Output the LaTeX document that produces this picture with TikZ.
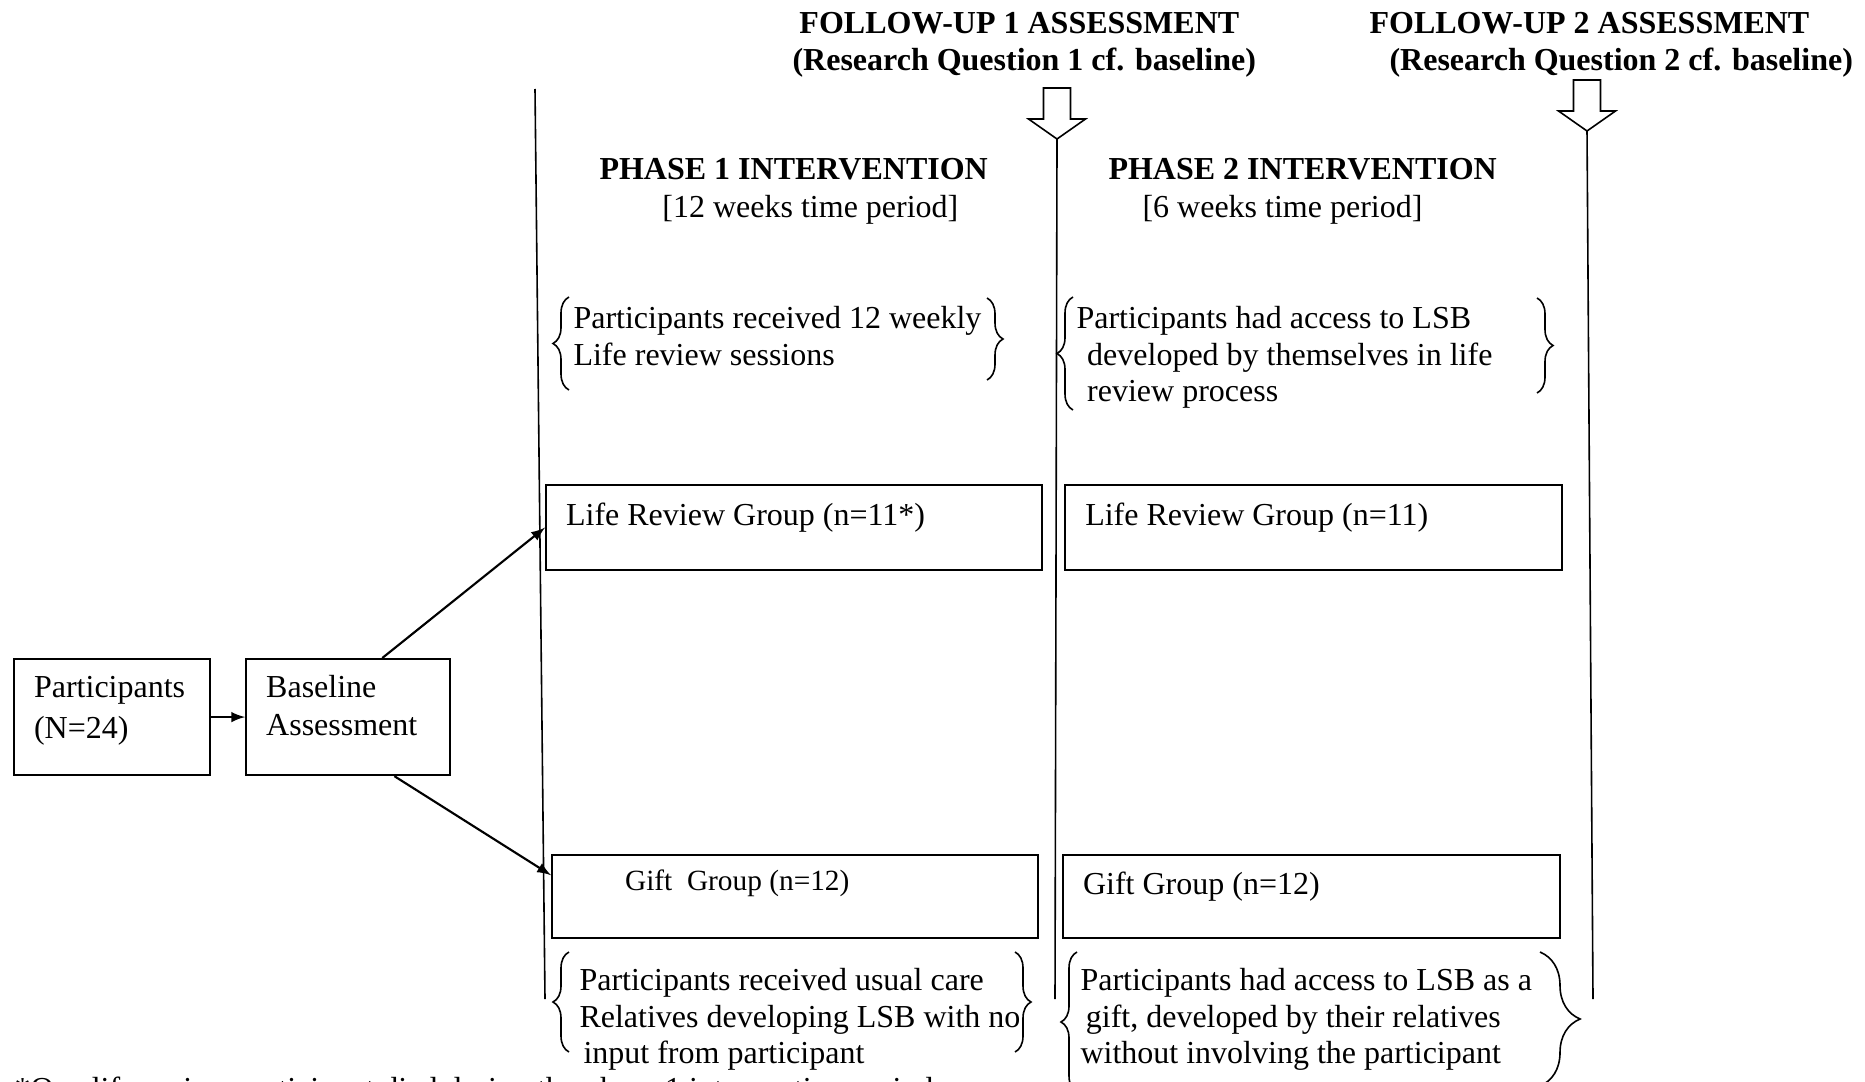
\documentclass[tikz,border=0pt]{standalone}
\usepackage{fontspec}
\setmainfont{Liberation Serif}
\usepackage{tikz}
\usetikzlibrary{arrows,positioning,calc,decorations.pathreplacing}
\tikzstyle{grpbox} = [draw, line width=0.8pt, anchor=north west, align=flush left, inner xsep=7.5pt, inner ysep=0pt, text height=15pt, text depth=16.9pt, font=\fontsize{12}{13.8}\selectfont]
\tikzstyle{startbox} = [draw, line width=0.8pt, anchor=north west, align=flush left, inner xsep=7.5pt, inner ysep=0pt, minimum height=43.5pt]
\tikzstyle{note} = [anchor=north west, align=left, inner sep=0pt, font=\fontsize{12}{13.8}\selectfont]
\tikzstyle{heading} = [note, font=\fontsize{12}{13.8}\selectfont\bfseries]
\tikzstyle{tedge}  = [draw, line width=0.8pt, >=latex, ->]
\tikzstyle{phaseline} = [draw, line width=0.6pt]
\tikzstyle{curly} = [draw, line width=0.6pt, decorate, decoration={brace, amplitude=6pt}]
\tikzstyle{hollow} = [draw, line width=0.6pt, fill=white]
\begin{document}
\begin{tikzpicture}[x=0.375pt, y=-0.375pt]
\useasboundingbox (0,0) rectangle (1865,1081);
\clip (0,0) rectangle (1865,1081);

% start boxes =============================
\node[startbox, text width=58.5pt, font=\fontsize{12}{15.4}\selectfont] (part) at (13,658) {\rule{0pt}{14.25pt}Participants\\(N=24)\rule[-13.8pt]{0pt}{0pt}};
\node[startbox, text width=61.5pt, font=\fontsize{12}{14.25}\selectfont, right=12.75pt of part] (base) {\rule{0pt}{14.25pt}Baseline\\Assessment\rule[-14.95pt]{0pt}{0pt}};

% group boxes =============================
\node[grpbox, text width=171pt] (lr1) at (545,484) {Life Review Group (n=11*)};
\node[grpbox, text width=171.4pt, right=7.9pt of lr1] (lr2) {Life Review Group (n=11)};
\node[grpbox, text width=167.25pt, text height=13.1pt, text depth=18pt] (g1) at (551,854) {\fontsize{11}{13}\selectfont\hspace*{19.9pt}Gift\ \ Group (n=12)};
\node[grpbox, text width=171.4pt, text height=14.6pt, text depth=16.5pt] (g2) at (1062,854) {Gift Group (n=12)};

% edges
\path[tedge] (part) -- (base);
\path[tedge] (base.60) -- (lr1.west);
\path[tedge] (base.-52) -- (g1.175);

% headings =============================
\node[heading] (fu1) at (792,7) {\strut\hspace*{2.6pt}FOLLOW-UP 1 ASSESSMENT\\\strut(Research Question 1 cf. baseline)};
\node[heading] (fu2) at (1369,7) {\strut FOLLOW-UP 2 ASSESSMENT\\\strut\hspace*{7.5pt}(Research Question 2 cf. baseline)};
\node[note] (ph1) at (599,153) {\strut\textbf{PHASE 1 INTERVENTION}\\[0.4pt]\strut\hspace*{23.6pt}[12 weeks time period]};
\node[note] (ph2) at (1108,153) {\strut\textbf{PHASE 2 INTERVENTION}\\[0.4pt]\strut\hspace*{12.75pt}[6 weeks time period]};

% follow-up arrows and phase lines
\coordinate (fu1tip) at (1057,139);
\coordinate (fu2tip) at (1587,131);
\draw[hollow] (fu1tip) -- ++(-28.5,-20) -- ++(15,0) -- ++(0,-31) -- ++(27,0) -- ++(0,31) -- ++(15,0) -- cycle;
\draw[hollow] (fu2tip) -- ++(-28.5,-20) -- ++(15,0) -- ++(0,-31) -- ++(27,0) -- ++(0,31) -- ++(15,0) -- cycle;
\coordinate (l0top) at (535,89);
\coordinate (l0bot) at (545,999);
\coordinate (fu1bot) at (1055,999);
\coordinate (fu2bot) at (1593,999);
\path[phaseline] (l0top) -- (l0bot);
\path[phaseline] (fu1tip) -- (fu1bot);
\path[phaseline] (fu2tip) -- (fu2bot);

% phase notes =============================
\node[note] (lrnote1) at (573,302) {\strut Participants received 12 weekly\\\strut Life review sessions};
\node[note] (lrnote2) at (1076,302) {\strut Participants had access to LSB\\\strut\hspace*{4pt}developed by themselves in life\\\strut\hspace*{4pt}review process};
\node[note] (gnote1) at (579,964) {\strut Participants received usual care\\\strut Relatives developing LSB with no\\\strut\hspace*{1.5pt}input from participant};
\node[note] (gnote2) at (1080,964) {\strut Participants had access to LSB as a\\\strut\hspace*{2pt}gift, developed by their relatives\\\strut without involving the participant};

% braces
\draw[curly] (569,390) -- (569,297);
\draw[curly] (987,298) -- (987,380);
\draw[curly] (1073,410) -- (1073,297);
\draw[curly] (1537,298) -- (1537,393);
\draw[curly] (569,1052) -- (569,952);
\draw[curly] (1015,952) -- (1015,1052);
\draw[curly] (1077,1092) -- (1077,952);
\draw[curly, decoration={amplitude=15pt}] (1540,952) -- (1540,1086);

% footnote
\node[note] (footnote) at (14,1073) {\strut *One life review participant died during the phase 1 intervention period};

\end{tikzpicture}
\end{document}
